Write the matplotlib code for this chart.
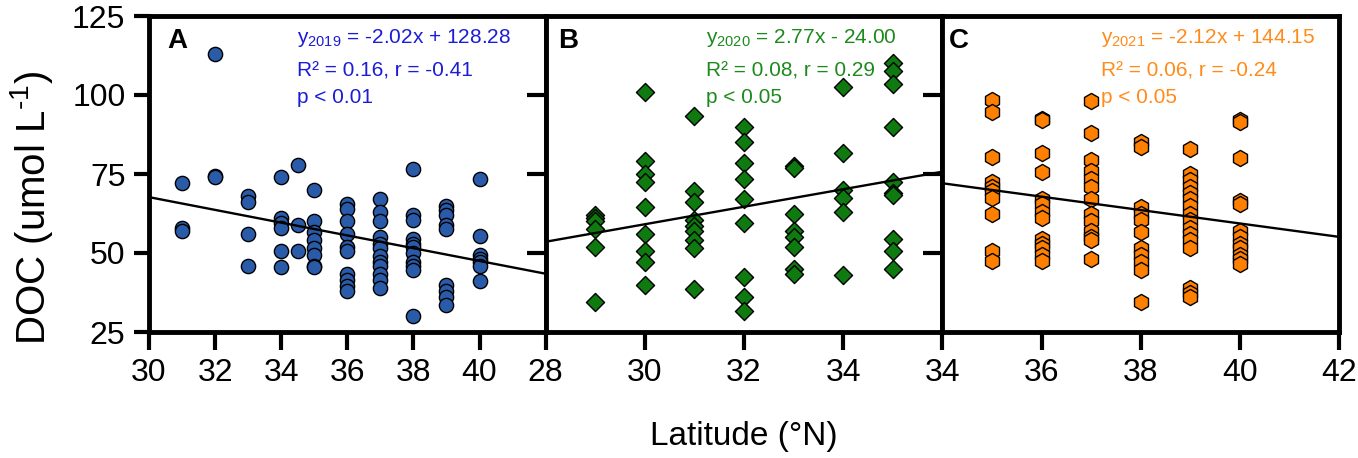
import numpy as np
import matplotlib
matplotlib.use('Agg')
import matplotlib.pyplot as plt

plt.rcParams['font.family'] = ['Liberation Sans', 'DejaVu Sans']
plt.rcParams['mathtext.fontset'] = 'custom'
plt.rcParams['mathtext.rm'] = 'Liberation Sans'
plt.rcParams['mathtext.it'] = 'Liberation Sans:italic'

# ---- data ----
lat_2019 = [31, 32, 33, 34, 34.5, 35, 36, 37, 38, 39, 40]
doc_2019 = [
    [72, 58, 57],
    [113, 74.5, 74],
    [68, 66, 56, 46],
    [74, 61, 59.5, 58, 50.5, 45.5],
    [78, 59, 50.5],
    [70, 60, 56.5, 54, 51.5, 49.5, 46, 45.5],
    [65.5, 64, 60, 56, 52, 50.5, 43.5, 41.5, 39.5, 38],
    [67, 63, 60, 55, 53, 51.5, 49, 47, 46, 43.5, 41.5, 39],
    [76.5, 62, 60.5, 54.5, 53, 52, 50, 47, 46, 44.5, 30],
    [65, 63.5, 62, 59, 57.5, 40, 38, 36, 33.5],
    [73.5, 55.5, 49.5, 48, 47, 46, 41],
]

lat_2020 = [29, 30, 31, 32, 33, 34, 35]
doc_2020 = [
    [62, 61, 60, 57.5, 52, 34.5],
    [101, 79, 75, 72.5, 64.5, 56, 50.5, 47, 40],
    [93.5, 69.5, 66, 60.5, 58.5, 57, 54, 51.5, 38.5],
    [90, 85, 78.5, 73.5, 67, 59.5, 42.5, 36, 31.5],
    [77.5, 77, 62.5, 57, 55, 52, 45, 43.5],
    [102.5, 81.5, 70, 67.5, 63, 43],
    [110, 107.5, 103.5, 90, 72.5, 69, 68.5, 54.5, 50.5, 45],
]

lat_2021 = [35, 36, 37, 38, 39, 40]
doc_2021 = [
    [98.5, 94.5, 80.5, 72.5, 71, 69.5, 67.5, 62.5, 50.5, 47.5],
    [92.5, 92, 81.5, 75.5, 67, 65.5, 63, 61, 54.5, 53, 51.5, 49.5, 47.5],
    [98, 88, 79.5, 76, 73.5, 71, 67, 62.5, 60, 57, 55, 54, 48],
    [85, 83.5, 64.5, 62.5, 60.5, 56.5, 51.5, 49.5, 47, 44.5, 34.5],
    [83, 75, 73, 71, 69, 67, 65, 62.5, 60.5, 58, 56, 54, 51.5, 39, 37.5, 36],
    [92, 91.5, 80, 66.5, 65.5, 57, 55, 53, 51.5, 49.5, 48, 46.5],
]

slopes = [-2.02, 2.77, -2.12]
intercepts = [128.28, -24.00, 144.15]
eq_text = [
    [r'$\mathrm{y_{2019}}$ = -2.02x + 128.28', 'R² = 0.16, r = -0.41', 'p < 0.01'],
    [r'$\mathrm{y_{2020}}$ = 2.77x - 24.00', 'R² = 0.08, r = 0.29', 'p < 0.05'],
    [r'$\mathrm{y_{2021}}$ = -2.12x + 144.15', 'R² = 0.06, r = -0.24', 'p < 0.05'],
]
panel_labels = ['A', 'B', 'C']
xlims = [(30, 42), (28, 36), (34, 42)]
xticks = [[30, 32, 34, 36, 38, 40], [28, 30, 32, 34], [34, 36, 38, 40, 42]]
yticks = [25, 50, 75, 100, 125]

# ---- styles ----
face_cols = ['#2a5ba8', '#0f7a0f', '#ff8000']
text_cols = ['#1c1cd6', '#1d8a1d', '#ff8c1a']
markers = ['o', 'D', 'h']
msizes = [105, 85, 135]
lw_spine = 3.5


def flatten(lats, docs):
    xs, ys = [], []
    for la, vals in zip(lats, docs):
        xs += [la] * len(vals)
        ys += vals
    return np.array(xs), np.array(ys)


fig = plt.figure(figsize=(13.58, 4.58), dpi=100)
left, right = 149 / 1358, 1339 / 1358
bottom, top = 1 - 332 / 458, 1 - 16 / 458
w = (right - left) / 3
axes = [fig.add_axes([left + i * w, bottom, w, top - bottom]) for i in range(3)]

data = [flatten(lat_2019, doc_2019), flatten(lat_2020, doc_2020), flatten(lat_2021, doc_2021)]
lab_x = [0.046, 0.031, 0.016]
txt_x = [0.374, 0.405, 0.40]

for i, ax in enumerate(axes):
    xs, ys = data[i]
    ax.scatter(xs, ys, s=msizes[i], marker=markers[i], facecolor=face_cols[i],
               edgecolor='k', linewidth=1.0, zorder=3, clip_on=False)
    xl = np.array(xlims[i])
    ax.plot(xl, slopes[i] * xl + intercepts[i], color='k', lw=1.7, zorder=4)
    ax.set_xlim(*xlims[i])
    ax.set_ylim(25, 125)
    ax.set_xticks(xticks[i])
    ax.set_yticks(yticks)
    for sp in ax.spines.values():
        sp.set_linewidth(lw_spine)
    ax.tick_params(axis='x', direction='out', length=13, width=3, labelsize=23, pad=6)
    if i == 0:
        ax.tick_params(axis='y', direction='out', length=11, width=3, labelsize=23, pad=6)
    else:
        ax.tick_params(axis='y', left=False, labelleft=False)
    if i < 2:
        # inward ticks on the right side
        sec = ax.secondary_yaxis('right')
        sec.set_yticks([50, 75, 100])
        sec.tick_params(direction='in', length=14, width=3, labelright=False)
        sec.spines['right'].set_visible(False)
    ax.text(lab_x[i], 0.90, panel_labels[i], transform=ax.transAxes,
            fontsize=20, fontweight='bold', ha='left', va='baseline')
    for j, yy in enumerate([0.915, 0.81, 0.725]):
        ax.text(txt_x[i], yy, eq_text[i][j], transform=ax.transAxes,
                fontsize=15, color=text_cols[i], ha='left', va='baseline')

fig.text((left + right) / 2, 0.046, 'Latitude (°N)', fontsize=24, ha='center', va='center')
fig.text(0.023, 0.546, 'DOC (umol L$^{\\mathrm{\u2010}1}$)', fontsize=29, rotation=90,
         ha='center', va='center')

fig.savefig('out.png', dpi=100)
